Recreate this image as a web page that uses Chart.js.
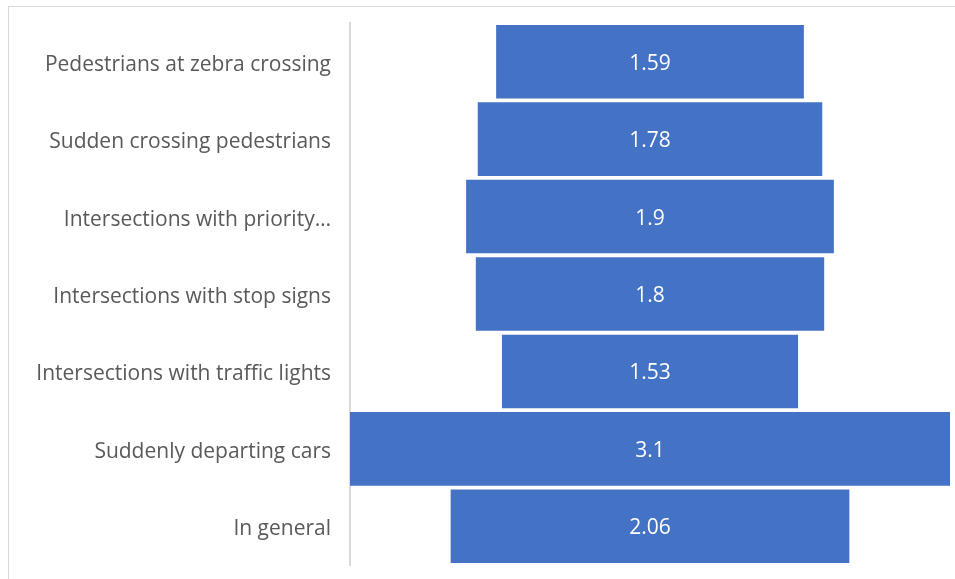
<!DOCTYPE html>
<html>
<head>
<meta charset="utf-8">
<script src="https://cdn.jsdelivr.net/npm/chart.js@4"></script>
<style>
  body { margin: 0; background: #fff; }
  #wrap { position: relative; width: 955px; height: 579px; }
  #frame { position: absolute; left: 8px; top: 6px; width: 960px; height: 580px; border: 1px solid #d9d9d9; }
  canvas { position: absolute; left: 0; top: 0; }
</style>
</head>
<body>
<div id="wrap">
  <div id="frame"></div>
  <canvas id="funnel" width="955" height="579"></canvas>
</div>
<script>
const categories = [
  "Pedestrians at zebra crossing",
  "Sudden crossing pedestrians",
  "Intersections with priority…",
  "Intersections with stop signs",
  "Intersections with traffic lights",
  "Suddenly departing cars",
  "In general"
];
const values = [1.59, 1.78, 1.9, 1.8, 1.53, 3.1, 2.06];

// funnel: every bar is centred on the widest one
const maxVal = Math.max(...values);
const spans = values.map(v => [(maxVal - v) / 2, (maxVal + v) / 2]);

const fontFamily = "'Open Sans', sans-serif";

// white value text in the middle of each bar
const barLabels = {
  id: 'barLabels',
  afterDatasetsDraw(chart) {
    const ctx = chart.ctx;
    const meta = chart.getDatasetMeta(0);
    ctx.save();
    ctx.fillStyle = '#ffffff';
    ctx.font = '21px ' + fontFamily;
    ctx.textAlign = 'center';
    ctx.textBaseline = 'middle';
    meta.data.forEach((bar, i) => {
      ctx.fillText(String(values[i]), (bar.x + bar.base) / 2, bar.y + 2);
    });
    ctx.restore();
  }
};

const myChart = new Chart(document.getElementById('funnel'), {
  type: 'bar',
  data: {
    labels: categories,
    datasets: [{
      data: spans,
      backgroundColor: '#4472c4',
      borderWidth: 0,
      barPercentage: 0.95,
      categoryPercentage: 1
    }]
  },
  options: {
    indexAxis: 'y',
    responsive: false,
    animation: false,
    layout: { padding: { left: 0, right: 5, top: 23, bottom: 14 } },
    plugins: {
      legend: { display: false },
      tooltip: { enabled: false }
    },
    scales: {
      x: {
        display: false,
        min: 0,
        max: maxVal
      },
      y: {
        grid: { display: false, drawTicks: false },
        border: { display: true, color: '#d9d9d9', width: 2 },
        ticks: {
          color: '#595959',
          padding: 19,
          labelOffset: 3,
          font: { family: fontFamily, size: 21 }
        },
        afterFit(scale) {
          scale.width = 350;
          scale.paddingTop = 0;
          scale.paddingBottom = 0;
        }
      }
    }
  },
  plugins: [barLabels]
});
</script>
</body>
</html>
